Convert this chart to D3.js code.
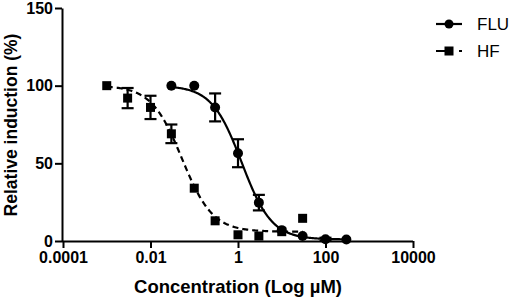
<!DOCTYPE html>
<html>
<head>
<meta charset="utf-8">
<script src="https://cdn.jsdelivr.net/npm/d3@7"></script>
<style>
  body { margin: 0; background: #fff; }
  text { font-family: "Liberation Sans", Arial, sans-serif; }
</style>
</head>
<body>
<div id="chart"></div>
<script>
// Dose-response data (concentration in µM, relative induction in %)
const fluConc = [0.03, 0.1, 0.3, 1, 3, 10, 30, 100, 300];
const fluMean = [100, 100, 86, 56.5, 24.7, 7, 3.2, 1.1, 1];
const fluErr  = [0, 0, 9, 9, 5, 0, 0, 1, 0];

const hfConc = [0.001, 0.003, 0.01, 0.03, 0.1, 0.3, 1, 3, 10, 30];
const hfMean = [100, 92, 86, 69, 34, 13, 4, 3.2, 6, 14.6];
const hfErr  = [0, 6.5, 7.5, 6, 0, 0, 0, 0, 0, 0];

// fitted 4-parameter logistic curves
const fluFit = { top: 100, bottom: 1, logIC50: 0.085, hill: 1.27 };
const hfFit  = { top: 100, bottom: 6, logIC50: -1.28, hill: 1.24 };

const xTicks = [0.0001, 0.01, 1, 100, 10000];
const yTicks = [0, 50, 100, 150];
const seriesNames = ["FLU", "HF"];

const width = 512, height = 299;
const margin = { top: 8, right: 99, bottom: 58, left: 62 };

const svg = d3.select("#chart").append("svg")
    .attr("width", width)
    .attr("height", height);

const x = d3.scaleLog()
    .domain([0.0001, 10000])
    .range([margin.left + 1, width - margin.right]);

const y = d3.scaleLinear()
    .domain([0, 150])
    .range([height - margin.bottom, margin.top]);

const logistic = p => xv => p.bottom + (p.top - p.bottom) / (1 + Math.pow(10, p.hill * (Math.log10(xv) - p.logIC50)));

// axes
svg.append("g")
    .attr("transform", `translate(0,${height - margin.bottom})`)
    .call(d3.axisBottom(x).tickValues(xTicks).tickFormat(d => String(d)).tickSize(7).tickPadding(4).tickSizeOuter(0))
    .call(g => g.select(".domain").attr("d", `M${margin.left},0.5H${width - margin.right}`))
    .call(g => g.selectAll("line, path").attr("stroke", "#000").attr("stroke-width", 2))
    .call(g => g.selectAll("text").attr("fill", "#000").attr("font-size", 16).attr("font-weight", "bold"));

svg.append("g")
    .attr("transform", `translate(${margin.left},0)`)
    .call(d3.axisLeft(y).tickValues(yTicks).tickSize(7).tickPadding(2).tickSizeOuter(0))
    .call(g => g.selectAll("line, path").attr("stroke", "#000").attr("stroke-width", 2))
    .call(g => g.selectAll("text").attr("fill", "#000").attr("font-size", 16).attr("font-weight", "bold"));

// axis titles
svg.append("text")
    .attr("x", 238)
    .attr("y", 293)
    .attr("text-anchor", "middle")
    .attr("font-size", 18.5)
    .attr("font-weight", "bold")
    .text("Concentration (Log µM)");

svg.append("text")
    .attr("transform", "rotate(-90)")
    .attr("x", -125)
    .attr("y", 17)
    .attr("text-anchor", "middle")
    .attr("font-size", 17.5)
    .attr("font-weight", "bold")
    .text("Relative induction (%)");

// fitted curves
function curvePoints(conc, fit) {
    const lo = Math.log10(d3.min(conc)), hi = Math.log10(d3.max(conc));
    return d3.range(0, 201).map(i => {
        const xv = Math.pow(10, lo + (hi - lo) * i / 200);
        return [xv, logistic(fit)(xv)];
    });
}

const line = d3.line().x(d => x(d[0])).y(d => y(d[1])).curve(d3.curveLinear);

svg.append("path")
    .datum(curvePoints(hfConc, hfFit))
    .attr("d", line)
    .attr("fill", "none")
    .attr("stroke", "#000")
    .attr("stroke-width", 2.2)
    .attr("stroke-dasharray", "6,4");

svg.append("path")
    .datum(curvePoints(fluConc, fluFit))
    .attr("d", line)
    .attr("fill", "none")
    .attr("stroke", "#000")
    .attr("stroke-width", 2.2);

// error bars
function errorBars(conc, mean, err) {
    const data = conc.map((c, i) => ({ c, m: mean[i], e: err[i] })).filter(d => d.e > 0);
    const g = svg.append("g").attr("stroke", "#000").attr("stroke-width", 2.2);
    g.selectAll(".v").data(data).join("line")
        .attr("x1", d => x(d.c)).attr("x2", d => x(d.c))
        .attr("y1", d => y(d.m - d.e)).attr("y2", d => y(d.m + d.e));
    g.selectAll(".t").data(data).join("line")
        .attr("x1", d => x(d.c) - 6).attr("x2", d => x(d.c) + 6)
        .attr("y1", d => y(d.m + d.e)).attr("y2", d => y(d.m + d.e));
    g.selectAll(".b").data(data).join("line")
        .attr("x1", d => x(d.c) - 6).attr("x2", d => x(d.c) + 6)
        .attr("y1", d => y(d.m - d.e)).attr("y2", d => y(d.m - d.e));
}
errorBars(hfConc, hfMean, hfErr);
errorBars(fluConc, fluMean, fluErr);

// markers
svg.append("g").selectAll("rect")
    .data(hfConc.map((c, i) => [c, hfMean[i]]))
    .join("rect")
    .attr("x", d => x(d[0]) - 4.5)
    .attr("y", d => y(d[1]) - 4.5)
    .attr("width", 9)
    .attr("height", 9)
    .attr("fill", "#000");

svg.append("g").selectAll("circle")
    .data(fluConc.map((c, i) => [c, fluMean[i]]))
    .join("circle")
    .attr("cx", d => x(d[0]))
    .attr("cy", d => y(d[1]))
    .attr("r", 5)
    .attr("fill", "#000");

// legend
const legend = svg.append("g").attr("transform", "translate(436,24)");
legend.selectAll("g")
    .data(seriesNames)
    .join("g")
    .attr("transform", (d, i) => `translate(0,${i * 27})`)
    .each(function (d, i) {
        const g = d3.select(this);
        if (i === 0) {
            g.append("line").attr("x1", 0).attr("x2", 26).attr("y1", 0).attr("y2", 0)
                .attr("stroke", "#000").attr("stroke-width", 2.2);
            g.append("circle").attr("cx", 13).attr("cy", 0).attr("r", 4.5).attr("fill", "#000");
        } else {
            g.append("line").attr("x1", 0).attr("x2", 26).attr("y1", 0).attr("y2", 0)
                .attr("stroke", "#000").attr("stroke-width", 2.2).attr("stroke-dasharray", "17,6,3");
            g.append("rect").attr("x", 8.5).attr("y", -4.5).attr("width", 9).attr("height", 9).attr("fill", "#000");
        }
        g.append("text")
            .attr("x", 41)
            .attr("y", 6)
            .attr("font-size", 17)
            .attr("fill", "#000")
            .text(d);
    });
</script>
</body>
</html>
